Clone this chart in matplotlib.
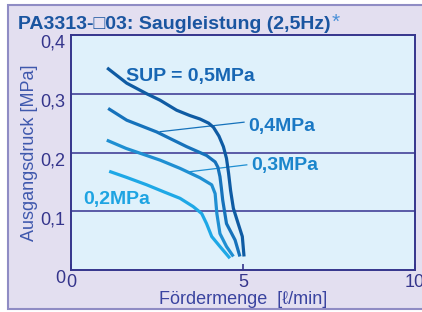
import matplotlib
matplotlib.use("Agg")
import matplotlib.pyplot as plt
from matplotlib.patches import Rectangle

plt.rcParams['font.family'] = ['Liberation Sans', 'DejaVu Sans']

# ---- data ----
p05_x = [1.05, 1.62, 2.2, 2.59, 3.07, 3.45, 3.75, 4.0, 4.14, 4.30, 4.43, 4.52, 4.58, 4.64, 4.72, 4.86, 4.98, 5.03]
p05_y = [0.344, 0.318, 0.300, 0.289, 0.272, 0.263, 0.257, 0.250, 0.243, 0.228, 0.210, 0.190, 0.165, 0.135, 0.105, 0.079, 0.057, 0.023]

p04_x = [1.08, 1.62, 2.49, 3.36, 3.94, 4.19, 4.27, 4.33, 4.37, 4.41, 4.52, 4.77, 4.91]
p04_y = [0.275, 0.255, 0.235, 0.210, 0.195, 0.184, 0.175, 0.159, 0.140, 0.119, 0.079, 0.051, 0.023]

p03_x = [1.04, 1.60, 2.59, 3.17, 3.75, 4.09, 4.19, 4.24, 4.33, 4.52, 4.72]
p03_y = [0.221, 0.207, 0.187, 0.173, 0.157, 0.145, 0.130, 0.096, 0.062, 0.040, 0.023]

p02_x = [1.11, 1.60, 2.20, 2.70, 3.17, 3.55, 3.80, 3.94, 4.09, 4.33, 4.62]
p02_y = [0.168, 0.158, 0.145, 0.133, 0.122, 0.108, 0.096, 0.079, 0.057, 0.040, 0.020]

x_ticks = [0, 5, 10]
x_ticklabels = ['0', '5', '10']
y_ticks = [0, 0.1, 0.2, 0.3, 0.4]
y_ticklabels = ['0', '0,1', '0,2', '0,3', '0,4']

c05 = '#0f5ba3'
c04 = '#1672bb'
c03 = '#1f8fd2'
c02 = '#1ea8e6'
axis_col = '#35358c'
grid_col = '#5a5aa6'

fig = plt.figure(figsize=(4.22, 3.12), dpi=100)

# outer frame
frame = Rectangle((8/422, 3/312), 1.0, 304/312, transform=fig.transFigure,
                  facecolor='#e3dff0', edgecolor='#8f8cc4', lw=1.5, zorder=-10)
fig.patches.append(frame)

ax = fig.add_axes([71/422, 42/312, 344/422, 235/312])
ax.set_zorder(1)
ax.set_facecolor('#dff1fb')
ax.set_xlim(0, 10)
ax.set_ylim(0, 0.4)

for y in [0.1, 0.2, 0.3]:
    ax.axhline(y, color=grid_col, lw=1.4, zorder=1)

for s in ax.spines.values():
    s.set_color(axis_col)
    s.set_linewidth(1.4)

lw = 2.3
ax.plot(p05_x, p05_y, color=c05, lw=lw, solid_joinstyle='round', solid_capstyle='butt', zorder=3)
ax.plot(p04_x, p04_y, color=c04, lw=lw, solid_joinstyle='round', solid_capstyle='butt', zorder=3)
ax.plot(p03_x, p03_y, color=c03, lw=lw, solid_joinstyle='round', solid_capstyle='butt', zorder=3)
ax.plot(p02_x, p02_y, color=c02, lw=lw, solid_joinstyle='round', solid_capstyle='butt', zorder=3)

# leader lines
ax.plot([2.59, 5.03], [0.2354, 0.2516], color=c04, lw=0.9, zorder=2)
ax.plot([3.41, 5.11], [0.167, 0.179], color=c03, lw=0.9, zorder=2)

lbl_fs = 14
ax.text(1.60, 0.3217, 'SUP = 0,5MPa', color='#1766b3', fontsize=lbl_fs, fontweight='bold', va='baseline')
ax.text(5.15, 0.2366, '0,4MPa', color='#1a78c4', fontsize=lbl_fs, fontweight='bold', va='baseline')
ax.text(5.23, 0.170, '0,3MPa', color='#1a86cc', fontsize=lbl_fs, fontweight='bold', va='baseline')
ax.text(0.36, 0.1123, '0,2MPa', color='#1ea4e2', fontsize=lbl_fs, fontweight='bold', va='baseline')

ax.set_xticks(x_ticks)
ax.set_xticklabels(x_ticklabels)
ax.set_yticks(y_ticks)
ax.set_yticklabels(y_ticklabels, va='top')
ax.tick_params(axis='x', direction='in', length=4, width=1.2, color=axis_col,
               labelcolor=axis_col, labelsize=13, pad=3)
ax.tick_params(axis='y', length=0, labelcolor=axis_col, labelsize=13, pad=4)

ax.set_xlabel('Fördermenge  [ℓ/min]', color='#3a44a0', fontsize=13, labelpad=0)
ax.set_ylabel('Ausgangsdruck [MPa]', color='#3f58ad', fontsize=13, labelpad=2)

t = fig.text(18/422, (312-29)/312, 'PA3313-□03: Saugleistung (2,5Hz)',
             color='#1a55a0', fontsize=14, fontweight='bold', va='baseline', ha='left')
ax.annotate('*', xy=(1, 1), xycoords=t, xytext=(1, 2), textcoords='offset points',
            color='#4a90d8', fontsize=15, ha='left', va='top', annotation_clip=False)

fig.savefig('out.png', dpi=100)
